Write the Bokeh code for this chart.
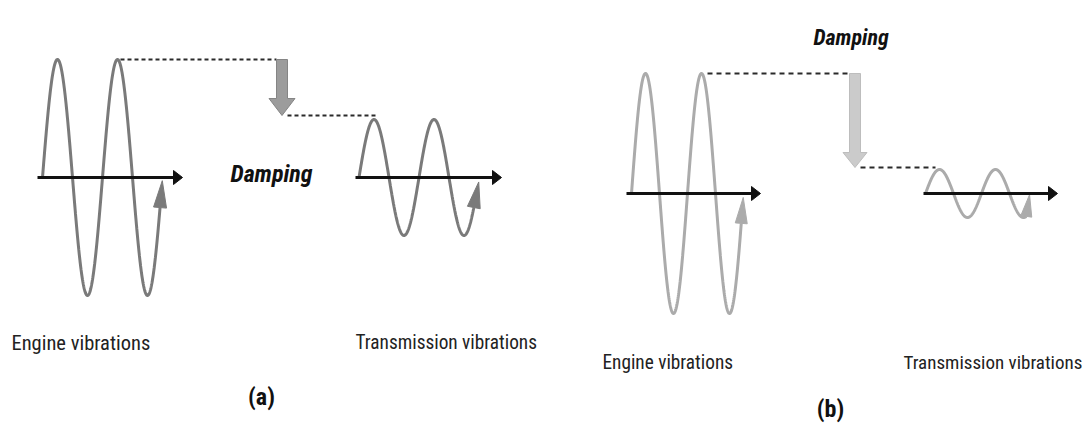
import numpy as np
from bokeh.plotting import figure
from bokeh.models import Range1d
from bokeh.core.properties import value
from bokeh.embed import file_html
from bokeh.resources import INLINE

# ---------------- data ----------------
panel_names = ["(a)", "(b)"]
engine_amplitude = [118, 120]          # relative size of engine vibration
transmission_amplitude = [58, 24]      # relative size after damping
label_engine = "Engine vibrations"
label_transmission = "Transmission vibrations"
label_damping = "Damping"

# ---------------- layout (pixel coordinates, y down) ----------------
layout = {
    "(a)": dict(axis_y=177, eng_x0=42, eng_period=60, eng_axis=(37, 182), eng_end=1.959,
                tr_x0=358.5, tr_period=60, tr_axis=(355, 501), tr_end=1.9135,
                tr_head_dir=None, shaft_x=281.5, shaft_w=11, head_w=26, head_len=17,
                bottom_gap=4, dot_from=120, dot2_to=375,
                wave_color="#7a7a7a", arrow_fill="#9c9c9c", arrow_line="#858585",
                dash="4 3", damp_x=230, damp_y=173, damp_size="24px",
                eng_lab=(11, 342, "20.5px"), tr_lab=(355, 342, "19.3px"),
                name_xy=(261, 396)),
    "(b)": dict(axis_y=193, eng_x0=631, eng_period=56, eng_axis=(626, 760), eng_end=1.96,
                tr_x0=925, tr_period=56, tr_axis=(923, 1057), tr_end=1.80,
                tr_head_dir=(0.15, -1.0), shaft_x=854.5, shaft_w=11, head_w=24, head_len=15,
                bottom_gap=2, dot_from=707, dot2_to=935,
                wave_color="#ababab", arrow_fill="#cbcbcb", arrow_line="#bdbdbd",
                dash="5 4", damp_x=813, damp_y=37, damp_size="22px",
                eng_lab=(602, 362, "19.3px"), tr_lab=(903, 362, "19px"),
                name_xy=(830, 408)),
}

p = figure(width=1086, height=425, x_range=Range1d(0, 1086), y_range=Range1d(425, 0),
           output_backend="svg", toolbar_location=None, min_border=0)
p.axis.visible = False
p.grid.visible = False
p.outline_line_color = None
p.background_fill_color = "white"
p.border_fill_color = "white"

FONT = "Roboto Condensed"


def wave(x0, period, amp, axis_y, end_cycles, color, head_dir=None, head_len=27, head_w=13):
    t = np.linspace(0, end_cycles, 400)
    xs = x0 + t * period
    ys = axis_y - amp * np.sin(2 * np.pi * t)
    p.line(xs, ys, line_color=color, line_width=3)
    bx, by = xs[-1], ys[-1]
    if head_dir is None:
        dx = 1.0
        dy = -amp * 2 * np.pi / period * np.cos(2 * np.pi * end_cycles)
    else:
        dx, dy = head_dir
    n = np.hypot(dx, dy)
    ux, uy = dx / n, dy / n
    px, py = -uy, ux
    tip = (bx + ux * head_len, by + uy * head_len)
    hw = head_w / 2
    p.patch([bx + px * hw, tip[0], bx - px * hw], [by + py * hw, tip[1], by - py * hw],
            fill_color=color, line_color=color, line_width=1)


def h_axis(x_start, x_end, y):
    p.line([x_start, x_end - 8], [y, y], line_color="#111111", line_width=3)
    p.patch([x_end - 9, x_end, x_end - 9], [y - 7, y, y + 7],
            fill_color="#111111", line_color="#111111")


for i, name in enumerate(panel_names):
    L = layout[name]
    ay = L["axis_y"]
    ea = engine_amplitude[i]
    ta = transmission_amplitude[i]

    wave(L["eng_x0"], L["eng_period"], ea, ay, L["eng_end"], L["wave_color"],
         head_len=27 if i == 0 else 26, head_w=13 if i == 0 else 12)
    h_axis(L["eng_axis"][0], L["eng_axis"][1], ay)

    wave(L["tr_x0"], L["tr_period"], ta, ay, L["tr_end"], L["wave_color"],
         head_dir=L["tr_head_dir"], head_len=26 if i == 0 else 22,
         head_w=13 if i == 0 else 11)
    h_axis(L["tr_axis"][0], L["tr_axis"][1], ay)

    top = ay - ea
    bottom = ay - ta - L["bottom_gap"]
    sx, sw, hw, hl = L["shaft_x"], L["shaft_w"], L["head_w"], L["head_len"]

    p.line([L["dot_from"], sx - sw / 2], [top, top], line_color="#2a2a2a", line_width=2,
           line_dash=L["dash"])
    p.line([sx + sw / 2, L["dot2_to"]], [bottom, bottom], line_color="#2a2a2a", line_width=2,
           line_dash=L["dash"])

    head_top = bottom - hl
    p.patch([sx - sw / 2, sx + sw / 2, sx + sw / 2, sx + hw / 2, sx, sx - hw / 2, sx - sw / 2],
            [top, top, head_top, head_top, bottom, head_top, head_top],
            fill_color=L["arrow_fill"], line_color=L["arrow_line"], line_width=1)

    p.text(x=[L["damp_x"]], y=[L["damp_y"]], text=[label_damping],
           text_font=value(FONT), text_font_style="bold italic",
           text_font_size=L["damp_size"], text_color="#111111",
           text_baseline="alphabetic", text_align="left")
    ex, ey, es = L["eng_lab"]
    p.text(x=[ex], y=[ey], text=[label_engine], text_font=value(FONT),
           text_font_size=es, text_color="#222222", text_baseline="alphabetic",
           text_align="left")
    tx, ty, ts = L["tr_lab"]
    p.text(x=[tx], y=[ty], text=[label_transmission], text_font=value(FONT),
           text_font_size=ts, text_color="#222222", text_baseline="alphabetic",
           text_align="left")
    nx, ny = L["name_xy"]
    p.text(x=[nx], y=[ny], text=[name], text_font=value(FONT), text_font_style="bold",
           text_font_size="24px", text_color="#111111", text_baseline="middle",
           text_align="center")

open("out.html", "w").write(file_html(p, INLINE))
